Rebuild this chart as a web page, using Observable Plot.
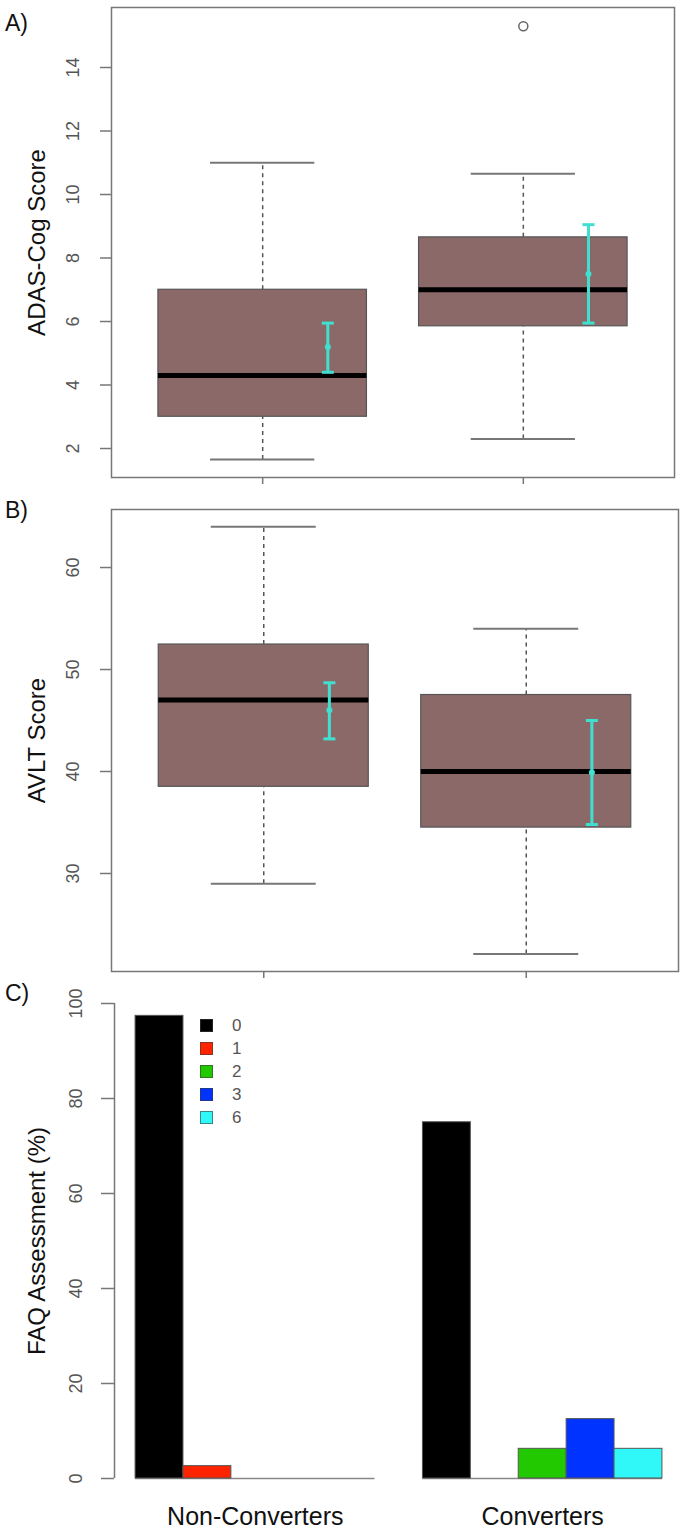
<!DOCTYPE html>
<html><head><meta charset="utf-8">
<script src="https://cdn.jsdelivr.net/npm/d3@7"></script>
<script src="https://cdn.jsdelivr.net/npm/@observablehq/plot@0.6"></script>
<style>
body{margin:0;background:#fff;}
#wrap{position:relative;width:685px;height:1531px;font-family:"Liberation Sans",Arial,sans-serif;background:#fff;}
.panel{position:absolute;left:0;}
.lab{position:absolute;left:5px;font-size:23px;line-height:23px;color:#111;}
#leg{position:absolute;left:200px;top:1014px;}
#leg > div{margin:0 !important;font-family:"Liberation Sans",Arial,sans-serif !important;}
#leg .faqleg-swatch{height:23px;font-size:17px;color:#555;display:flex;align-items:center;padding:0 !important;}
#leg .faqleg-swatch svg{margin-right:19px !important;outline:1px solid rgba(60,60,60,0.6);outline-offset:-1px;}
</style></head><body><div id="wrap"></div>
<script>
// ---- data ----
const groups = ["Non-Converters", "Converters"];

// Panel A: ADAS-Cog
const adasTicks = [2, 4, 6, 8, 10, 12, 14];
const adasMin = [1.65, 2.3];
const adasQ1 = [3.0, 5.85];
const adasMedian = [4.3, 7.0];
const adasQ3 = [7.0, 8.65];
const adasMax = [11.0, 10.65];
const adasOutliers = [[], [15.3]];
const adasMean = [5.2, 7.5];
const adasLo = [4.4, 5.95];
const adasHi = [5.95, 9.05];

// Panel B: AVLT
const avltTicks = [30, 40, 50, 60];
const avltMin = [29.0, 22.1];
const avltQ1 = [38.5, 34.5];
const avltMedian = [47.0, 40.0];
const avltQ3 = [52.45, 47.5];
const avltMax = [64.0, 54.0];
const avltOutliers = [[], []];
const avltMean = [46.0, 39.9];
const avltLo = [43.2, 34.8];
const avltHi = [48.7, 45.0];

// Panel C: FAQ
const faqTicks = [0, 20, 40, 60, 80, 100];
const faqScores = ["0", "1", "2", "3", "6"];
const faqColors = ["#000000", "#ff2400", "#22c800", "#0033ff", "#30f8f8"];
const faqNonConverters = [97.4, 2.6, 0, 0, 0];
const faqConverters = [75.0, 0, 6.25, 12.5, 6.25];

// ---- helpers ----
const FONT = "Liberation Sans, Arial, sans-serif";
const BOXFILL = "#8b6969";
const TURQ = "#40e0d0";
const capSymbol = {draw(ctx, size) { const r = Math.sqrt(size / Math.PI); ctx.moveTo(-r, 0); ctx.lineTo(r, 0); }};

function statRows(mn, q1, md, q3, mx, mean, lo, hi) {
  return groups.map((g, i) => ({group: g, x: i + 1, min: mn[i], q1: q1[i], med: md[i], q3: q3[i], max: mx[i], mean: mean[i], lo: lo[i], hi: hi[i]}));
}
function outRows(outs) {
  return outs.flatMap((arr, i) => arr.map(v => ({x: i + 1, v})));
}

function boxPanel({rows, outs, ticks, yDomain, title, height, mt, mb, mr}) {
  return Plot.plot({
    width: 685, height,
    marginLeft: 111, marginRight: mr, marginTop: mt, marginBottom: mb,
    style: {fontFamily: FONT, background: "white", overflow: "visible"},
    x: {domain: [0.42, 2.58], label: null},
    y: {domain: yDomain, label: null},
    marks: [
      Plot.ruleX(rows, {x: "x", y1: "q3", y2: "max", stroke: "#555", strokeWidth: 1.5, strokeDasharray: "4,4"}),
      Plot.ruleX(rows, {x: "x", y1: "min", y2: "q1", stroke: "#555", strokeWidth: 1.5, strokeDasharray: "4,4"}),
      Plot.ruleY(rows, {y: "max", x1: d => d.x - 0.2, x2: d => d.x + 0.2, stroke: "#777", strokeWidth: 2}),
      Plot.ruleY(rows, {y: "min", x1: d => d.x - 0.2, x2: d => d.x + 0.2, stroke: "#777", strokeWidth: 2}),
      Plot.rect(rows, {x1: d => d.x - 0.4, x2: d => d.x + 0.4, y1: "q1", y2: "q3", fill: BOXFILL, stroke: "#555", strokeWidth: 1.2}),
      Plot.ruleY(rows, {y: "med", x1: d => d.x - 0.4, x2: d => d.x + 0.4, stroke: "#000", strokeWidth: 5}),
      Plot.ruleX(rows, {x: d => d.x + 0.25, y1: "lo", y2: "hi", stroke: TURQ, strokeWidth: 3}),
      Plot.dot(rows, {x: d => d.x + 0.25, y: "lo", symbol: capSymbol, r: 6, stroke: TURQ, strokeWidth: 3}),
      Plot.dot(rows, {x: d => d.x + 0.25, y: "hi", symbol: capSymbol, r: 6, stroke: TURQ, strokeWidth: 3}),
      Plot.dot(rows, {x: d => d.x + 0.25, y: "mean", r: 3, fill: TURQ}),
      Plot.dot(outs, {x: "x", y: "v", r: 4.5, stroke: "#666", fill: "none", strokeWidth: 1.5}),
      Plot.frame({stroke: "#777", strokeWidth: 1.5}),
      Plot.axisY({ticks, tickSize: 11, tickFormat: () => "", stroke: "#777", strokeWidth: 1.5}),
      Plot.axisX({ticks: [1, 2], tickSize: 7, tickFormat: () => "", stroke: "#777", strokeWidth: 1.5}),
      Plot.text(ticks, {y: d => d, text: d => String(d), frameAnchor: "left", textAnchor: "middle", dx: -38, rotate: -90, fontSize: 18, fill: "#555"}),
      Plot.text([title], {frameAnchor: "left", textAnchor: "middle", dx: -74, rotate: -90, fontSize: 24, fill: "#111"})
    ]
  });
}

const wrap = document.getElementById("wrap");
function place(el, top) { el.classList.add("panel"); el.style.top = top + "px"; wrap.appendChild(el); }
function label(t, top) { const d = document.createElement("div"); d.className = "lab"; d.textContent = t; d.style.top = top + "px"; wrap.appendChild(d); }

// Panel A
const plotA = boxPanel({
  rows: statRows(adasMin, adasQ1, adasMedian, adasQ3, adasMax, adasMean, adasLo, adasHi),
  outs: outRows(adasOutliers), ticks: adasTicks, yDomain: [1.087, 15.89],
  title: "ADAS-Cog Score", height: 495, mt: 7, mb: 18, mr: 11
});
place(plotA, 0);

// Panel B
const plotB = boxPanel({
  rows: statRows(avltMin, avltQ1, avltMedian, avltQ3, avltMax, avltMean, avltLo, avltHi),
  outs: outRows(avltOutliers), ticks: avltTicks, yDomain: [20.39, 65.69],
  title: "AVLT Score", height: 490, mt: 14, mb: 14, mr: 7
});
place(plotB, 495);

// Panel C
const faqRows = [faqNonConverters, faqConverters].flatMap((vals, g) =>
  faqScores.map((s, i) => ({group: groups[g], score: s, value: vals[i], x1: g * 6 + i + 1, x2: g * 6 + i + 2})));
const groupRows = groups.map((g, i) => ({group: g, start: i * 6 + 1, end: i * 6 + 1 + faqScores.length, mid: i * 6 + 1 + faqScores.length / 2}));
const xDomainC = [0.56, 12.44];
const plotC = Plot.plot({
  width: 685, height: 546,
  marginLeft: 114, marginRight: 2, marginTop: 18, marginBottom: 53,
  style: {fontFamily: FONT, background: "white", overflow: "visible"},
  x: {domain: xDomainC, axis: null, label: null},
  y: {domain: [0, 100], label: null},
  color: {domain: faqScores, range: faqColors},
  marks: [
    Plot.ruleY(groupRows, {y: 0, x1: "start", x2: "end", stroke: "#888", strokeWidth: 1.5}),
    Plot.rect(faqRows, {x1: "x1", x2: "x2", y1: 0, y2: "value", fill: "score", stroke: "#555", strokeWidth: 1}),
    Plot.ruleX([xDomainC[0]], {y1: 0, y2: 100, stroke: "#777", strokeWidth: 1.5}),
    Plot.axisY({ticks: faqTicks, tickSize: 13, tickFormat: () => "", stroke: "#777", strokeWidth: 1.5}),
    Plot.text(faqTicks, {y: d => d, text: d => String(d), frameAnchor: "left", textAnchor: "middle", dx: -38, rotate: -90, fontSize: 18, fill: "#555"}),
    Plot.text(["FAQ Assessment (%)"], {frameAnchor: "left", textAnchor: "middle", dx: -77, rotate: -90, fontSize: 24, fill: "#111"}),
    Plot.text(groupRows, {x: "mid", text: "group", frameAnchor: "bottom", dy: 46, fontSize: 25, fill: "#111"})
  ]
});
place(plotC, 985);

const leg = plotC.legend("color", {columns: 1, swatchSize: 13, className: "faqleg"});
const legWrap = document.createElement("div");
legWrap.id = "leg";
legWrap.appendChild(leg);
wrap.appendChild(legWrap);

label("A)", 12);
label("B)", 499);
label("C)", 982);
</script>
</body></html>
